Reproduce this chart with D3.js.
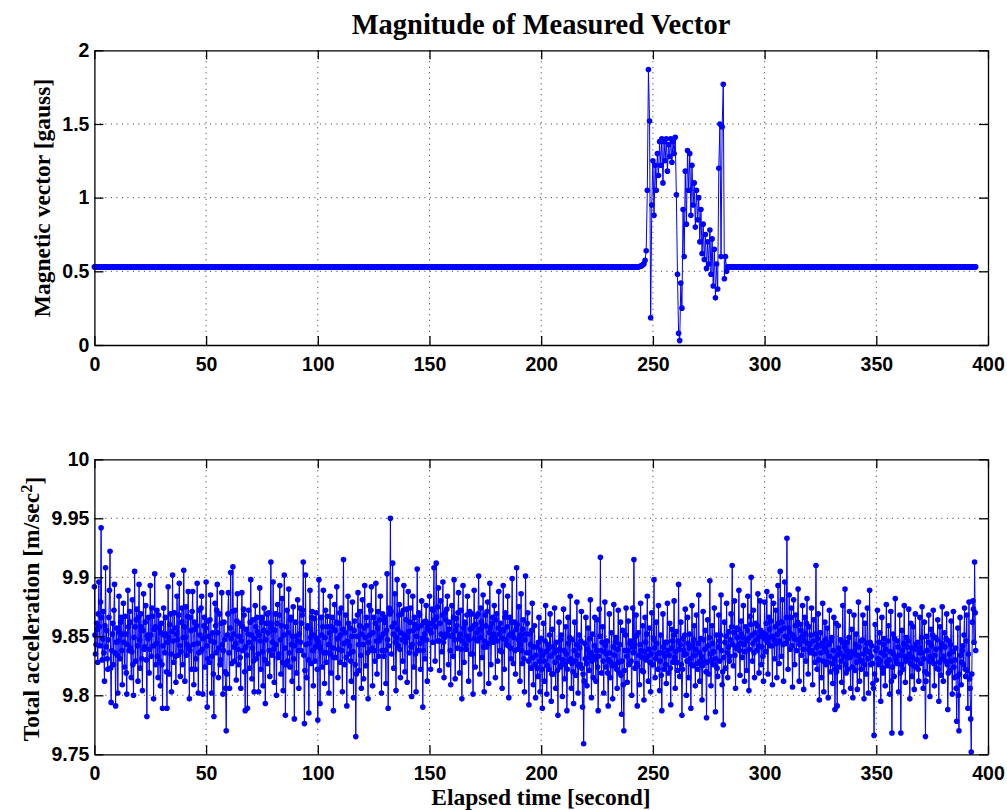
<!DOCTYPE html>
<html>
<head>
<meta charset="utf-8">
<script src="https://cdn.jsdelivr.net/npm/d3@7"></script>
<style>
	body{margin:0;background:#fff;}
	.tick text{font-family:"Liberation Sans",Arial,sans-serif;font-weight:bold;font-size:19.5px;fill:#000;}
	.lbl{font-family:"Liberation Serif","Times New Roman",serif;font-weight:bold;fill:#000;}
</style>
</head>
<body>
<svg id="fig" width="1007" height="810"></svg>
<script>
// sample intervals [s]
const magStep = 0.5;
const accStep = 0.25;

const timeTicks = [0,50,100,150,200,250,300,350,400];
const timeTickLabels = ['0','50','100','150','200','250','300','350','400'];
const magTicks = [0,0.5,1,1.5,2];
const magTickLabels = ['0','0.5','1','1.5','2'];
const accTicks = [9.75,9.8,9.85,9.9,9.95,10];
const accTickLabels = ['9.75','9.8','9.85','9.9','9.95','10'];

// magnitude of measured magnetic vector [gauss], 10 s per row
const magnitude = [
	0.53,0.53,0.53,0.53,0.53,0.53,0.53,0.53,0.53,0.53,0.53,0.53,0.53,0.53,0.53,0.53,0.53,0.53,0.53,0.53,
	0.53,0.53,0.53,0.53,0.53,0.53,0.53,0.53,0.53,0.53,0.53,0.53,0.53,0.53,0.53,0.53,0.53,0.53,0.53,0.53,
	0.53,0.53,0.53,0.53,0.53,0.53,0.53,0.53,0.53,0.53,0.53,0.53,0.53,0.53,0.53,0.53,0.53,0.53,0.53,0.53,
	0.53,0.53,0.53,0.53,0.53,0.53,0.53,0.53,0.53,0.53,0.53,0.53,0.53,0.53,0.53,0.53,0.53,0.53,0.53,0.53,
	0.53,0.53,0.53,0.53,0.53,0.53,0.53,0.53,0.53,0.53,0.53,0.53,0.53,0.53,0.53,0.53,0.53,0.53,0.53,0.53,
	0.53,0.53,0.53,0.53,0.53,0.53,0.53,0.53,0.53,0.53,0.53,0.53,0.53,0.53,0.53,0.53,0.53,0.53,0.53,0.53,
	0.53,0.53,0.53,0.53,0.53,0.53,0.53,0.53,0.53,0.53,0.53,0.53,0.53,0.53,0.53,0.53,0.53,0.53,0.53,0.53,
	0.53,0.53,0.53,0.53,0.53,0.53,0.53,0.53,0.53,0.53,0.53,0.53,0.53,0.53,0.53,0.53,0.53,0.53,0.53,0.53,
	0.53,0.53,0.53,0.53,0.53,0.53,0.53,0.53,0.53,0.53,0.53,0.53,0.53,0.53,0.53,0.53,0.53,0.53,0.53,0.53,
	0.53,0.53,0.53,0.53,0.53,0.53,0.53,0.53,0.53,0.53,0.53,0.53,0.53,0.53,0.53,0.53,0.53,0.53,0.53,0.53,
	0.53,0.53,0.53,0.53,0.53,0.53,0.53,0.53,0.53,0.53,0.53,0.53,0.53,0.53,0.53,0.53,0.53,0.53,0.53,0.53,
	0.53,0.53,0.53,0.53,0.53,0.53,0.53,0.53,0.53,0.53,0.53,0.53,0.53,0.53,0.53,0.53,0.53,0.53,0.53,0.53,
	0.53,0.53,0.53,0.53,0.53,0.53,0.53,0.53,0.53,0.53,0.53,0.53,0.53,0.53,0.53,0.53,0.53,0.53,0.53,0.53,
	0.53,0.53,0.53,0.53,0.53,0.53,0.53,0.53,0.53,0.53,0.53,0.53,0.53,0.53,0.53,0.53,0.53,0.53,0.53,0.53,
	0.53,0.53,0.53,0.53,0.53,0.53,0.53,0.53,0.53,0.53,0.53,0.53,0.53,0.53,0.53,0.53,0.53,0.53,0.53,0.53,
	0.53,0.53,0.53,0.53,0.53,0.53,0.53,0.53,0.53,0.53,0.53,0.53,0.53,0.53,0.53,0.53,0.53,0.53,0.53,0.53,
	0.53,0.53,0.53,0.53,0.53,0.53,0.53,0.53,0.53,0.53,0.53,0.53,0.53,0.53,0.53,0.53,0.53,0.53,0.53,0.53,
	0.53,0.53,0.53,0.53,0.53,0.53,0.53,0.53,0.53,0.53,0.53,0.53,0.53,0.53,0.53,0.53,0.53,0.53,0.53,0.53,
	0.53,0.53,0.53,0.53,0.53,0.53,0.53,0.53,0.53,0.53,0.53,0.53,0.53,0.53,0.53,0.53,0.53,0.53,0.53,0.53,
	0.53,0.53,0.53,0.53,0.53,0.53,0.53,0.53,0.53,0.53,0.53,0.53,0.53,0.53,0.53,0.53,0.53,0.53,0.53,0.53,
	0.53,0.53,0.53,0.53,0.53,0.53,0.53,0.53,0.53,0.53,0.53,0.53,0.53,0.53,0.53,0.53,0.53,0.53,0.53,0.53,
	0.53,0.53,0.53,0.53,0.53,0.53,0.53,0.53,0.53,0.53,0.53,0.53,0.53,0.53,0.53,0.53,0.53,0.53,0.53,0.53,
	0.53,0.53,0.53,0.53,0.53,0.53,0.53,0.53,0.53,0.53,0.53,0.53,0.53,0.53,0.53,0.53,0.53,0.53,0.53,0.53,
	0.53,0.53,0.53,0.53,0.53,0.53,0.53,0.53,0.53,0.53,0.53,0.53,0.53,0.53,0.53,0.53,0.53,0.53,0.53,0.53,
	0.53,0.53,0.53,0.53,0.53,0.53,0.53,0.53,
	// disturbance, t = 244 .. 283.5 s
	0.532,0.535,0.538,0.545,0.552,0.575,0.640,1.050,1.870,1.520,
	0.185,0.950,1.250,0.880,1.220,1.050,1.300,1.150,1.380,1.220,
	1.400,1.100,1.380,1.250,1.400,1.180,1.360,1.280,1.400,1.240,
	1.380,1.300,1.410,1.020,0.480,0.080,0.030,0.420,0.250,0.920,
	0.600,1.180,0.820,1.320,1.050,1.300,0.880,1.220,0.950,1.100,
	0.800,1.050,0.850,1.000,0.700,0.920,0.620,0.820,0.580,0.750,
	0.520,0.700,0.550,0.780,0.480,0.720,0.400,0.650,0.320,0.550,
	0.380,1.200,1.500,0.600,1.480,1.770,0.450,0.600,0.500,0.530,
	// t = 284 s onwards
	0.53,0.53,0.53,0.53,0.53,0.53,0.53,0.53,0.53,0.53,0.53,0.53,0.53,0.53,0.53,0.53,0.53,0.53,0.53,0.53,
	0.53,0.53,0.53,0.53,0.53,0.53,0.53,0.53,0.53,0.53,0.53,0.53,0.53,0.53,0.53,0.53,0.53,0.53,0.53,0.53,
	0.53,0.53,0.53,0.53,0.53,0.53,0.53,0.53,0.53,0.53,0.53,0.53,0.53,0.53,0.53,0.53,0.53,0.53,0.53,0.53,
	0.53,0.53,0.53,0.53,0.53,0.53,0.53,0.53,0.53,0.53,0.53,0.53,0.53,0.53,0.53,0.53,0.53,0.53,0.53,0.53,
	0.53,0.53,0.53,0.53,0.53,0.53,0.53,0.53,0.53,0.53,0.53,0.53,0.53,0.53,0.53,0.53,0.53,0.53,0.53,0.53,
	0.53,0.53,0.53,0.53,0.53,0.53,0.53,0.53,0.53,0.53,0.53,0.53,0.53,0.53,0.53,0.53,0.53,0.53,0.53,0.53,
	0.53,0.53,0.53,0.53,0.53,0.53,0.53,0.53,0.53,0.53,0.53,0.53,0.53,0.53,0.53,0.53,0.53,0.53,0.53,0.53,
	0.53,0.53,0.53,0.53,0.53,0.53,0.53,0.53,0.53,0.53,0.53,0.53,0.53,0.53,0.53,0.53,0.53,0.53,0.53,0.53,
	0.53,0.53,0.53,0.53,0.53,0.53,0.53,0.53,0.53,0.53,0.53,0.53,0.53,0.53,0.53,0.53,0.53,0.53,0.53,0.53,
	0.53,0.53,0.53,0.53,0.53,0.53,0.53,0.53,0.53,0.53,0.53,0.53,0.53,0.53,0.53,0.53,0.53,0.53,0.53,0.53,
	0.53,0.53,0.53,0.53,0.53,0.53,0.53,0.53,0.53,0.53,0.53,0.53,0.53,0.53,0.53,0.53,0.53,0.53,0.53,0.53,
	0.53,0.53
];

// total acceleration [m/sec^2], 10 s per row
const acceleration = [
	9.892,9.851,9.835,9.843,9.861,9.856,9.828,9.869,9.896,9.858,9.842,9.879,9.942,9.866,9.830,9.848,9.871,9.836,9.812,9.859,9.908,9.841,9.855,9.831,9.822,9.847,9.866,9.889,9.922,9.823,9.794,9.838,9.852,9.861,9.826,9.872,9.894,9.836,9.791,9.845,
	9.857,9.834,9.802,9.846,9.884,9.853,9.831,9.862,9.866,9.838,9.809,9.852,9.878,9.845,9.824,9.867,9.852,9.819,9.801,9.843,9.889,9.858,9.838,9.871,9.862,9.840,9.815,9.837,9.881,9.826,9.800,9.849,9.905,9.858,9.829,9.864,9.873,9.842,9.812,9.866,
	9.894,9.847,9.823,9.869,9.858,9.831,9.804,9.855,9.886,9.839,9.841,9.862,9.876,9.830,9.782,9.851,9.848,9.866,9.819,9.839,9.893,9.851,9.833,9.874,9.867,9.842,9.797,9.856,9.903,9.858,9.826,9.844,9.872,9.833,9.815,9.868,9.857,9.829,9.808,9.853,
	9.861,9.826,9.789,9.842,9.874,9.851,9.836,9.866,9.852,9.820,9.789,9.845,9.892,9.849,9.818,9.860,9.869,9.835,9.803,9.854,9.902,9.846,9.828,9.870,9.857,9.833,9.811,9.852,9.884,9.847,9.834,9.868,9.895,9.842,9.816,9.837,9.862,9.874,9.826,9.849,
	9.906,9.858,9.812,9.849,9.875,9.834,9.843,9.867,9.888,9.841,9.797,9.838,9.866,9.855,9.822,9.871,9.888,9.843,9.809,9.862,9.856,9.822,9.831,9.859,9.895,9.844,9.802,9.836,9.872,9.851,9.837,9.874,9.884,9.839,9.801,9.848,9.859,9.866,9.824,9.857,
	9.896,9.842,9.790,9.831,9.863,9.850,9.828,9.864,9.885,9.846,9.802,9.833,9.853,9.818,9.782,9.845,9.878,9.859,9.836,9.872,9.894,9.853,9.815,9.840,9.869,9.826,9.830,9.861,9.887,9.843,9.801,9.838,9.862,9.847,9.820,9.806,9.770,9.818,9.851,9.869,
	9.887,9.836,9.806,9.857,9.904,9.848,9.827,9.871,9.909,9.852,9.841,9.829,9.872,9.844,9.813,9.863,9.886,9.839,9.826,9.850,9.861,9.832,9.806,9.846,9.887,9.858,9.838,9.873,9.868,9.820,9.787,9.841,9.856,9.834,9.789,9.852,9.872,9.845,9.823,9.862,
	9.898,9.851,9.814,9.840,9.864,9.829,9.803,9.848,9.876,9.858,9.831,9.866,9.854,9.835,9.803,9.851,9.891,9.846,9.822,9.862,9.866,9.837,9.808,9.855,9.874,9.830,9.793,9.847,9.861,9.869,9.827,9.853,9.870,9.838,9.816,9.861,9.913,9.857,9.834,9.845,
	9.896,9.839,9.811,9.855,9.869,9.843,9.800,9.861,9.877,9.832,9.835,9.868,9.893,9.847,9.818,9.859,9.882,9.828,9.804,9.851,9.902,9.840,9.783,9.826,9.858,9.872,9.829,9.853,9.890,9.836,9.824,9.864,9.866,9.843,9.812,9.850,9.875,9.831,9.780,9.842,
	9.862,9.850,9.819,9.846,9.881,9.838,9.806,9.852,9.874,9.845,9.838,9.861,9.868,9.872,9.913,9.834,9.776,9.821,9.902,9.843,9.815,9.857,9.859,9.830,9.785,9.844,9.889,9.849,9.827,9.866,9.871,9.838,9.808,9.851,9.865,9.829,9.841,9.870,9.848,9.822,
	9.779,9.845,9.898,9.842,9.793,9.839,9.866,9.851,9.824,9.858,9.889,9.836,9.810,9.849,9.872,9.828,9.836,9.867,9.858,9.843,9.802,9.853,9.884,9.835,9.819,9.858,9.866,9.840,9.787,9.832,9.877,9.855,9.832,9.862,9.892,9.848,9.815,9.839,9.861,9.870,
	9.828,9.851,9.874,9.838,9.803,9.856,9.915,9.844,9.826,9.853,9.868,9.832,9.791,9.846,9.884,9.861,9.835,9.842,9.857,9.829,9.812,9.850,9.879,9.837,9.798,9.855,9.863,9.826,9.765,9.818,9.850,9.868,9.887,9.843,9.821,9.859,9.871,9.834,9.806,9.852,
	9.881,9.843,9.814,9.857,9.893,9.849,9.825,9.866,9.859,9.836,9.797,9.845,9.876,9.851,9.838,9.872,9.892,9.840,9.808,9.853,9.866,9.838,9.829,9.861,9.895,9.846,9.818,9.857,9.871,9.833,9.846,9.864,9.884,9.849,9.802,9.838,9.869,9.852,9.833,9.866,
	9.862,9.838,9.810,9.855,9.903,9.847,9.789,9.842,9.874,9.869,9.950,9.871,9.835,9.858,9.912,9.852,9.823,9.861,9.886,9.845,9.804,9.849,9.898,9.856,9.842,9.868,9.877,9.839,9.815,9.853,9.869,9.847,9.829,9.872,9.893,9.851,9.820,9.845,9.864,9.873,
	9.811,9.849,9.888,9.854,9.836,9.862,9.874,9.841,9.799,9.843,9.884,9.855,9.824,9.866,9.860,9.835,9.803,9.850,9.907,9.857,9.838,9.870,9.868,9.844,9.822,9.859,9.880,9.848,9.790,9.838,9.862,9.852,9.831,9.863,9.876,9.847,9.812,9.858,9.856,9.861,
	9.884,9.855,9.822,9.853,9.873,9.861,9.845,9.872,9.908,9.864,9.829,9.858,9.912,9.866,9.846,9.875,9.891,9.846,9.821,9.861,9.880,9.852,9.837,9.868,9.896,9.845,9.815,9.849,9.870,9.864,9.852,9.873,9.884,9.851,9.826,9.856,9.862,9.838,9.809,9.850,
	9.876,9.851,9.833,9.866,9.898,9.847,9.814,9.855,9.865,9.859,9.840,9.870,9.887,9.848,9.819,9.852,9.872,9.839,9.797,9.846,9.893,9.857,9.828,9.862,9.861,9.843,9.839,9.868,9.884,9.850,9.812,9.847,9.871,9.856,9.835,9.869,9.857,9.835,9.801,9.859,
	9.889,9.848,9.824,9.860,9.867,9.853,9.846,9.869,9.901,9.856,9.818,9.849,9.874,9.862,9.832,9.858,9.885,9.841,9.803,9.846,9.868,9.859,9.841,9.871,9.879,9.844,9.810,9.853,9.895,9.857,9.826,9.848,9.861,9.866,9.845,9.852,9.876,9.849,9.815,9.864,
	9.869,9.846,9.829,9.857,9.888,9.852,9.838,9.861,9.856,9.837,9.806,9.848,9.893,9.855,9.822,9.866,9.870,9.847,9.843,9.858,9.884,9.842,9.798,9.851,9.866,9.840,9.831,9.862,9.899,9.853,9.827,9.849,9.862,9.838,9.818,9.856,9.908,9.860,9.839,9.847,
	9.875,9.843,9.812,9.851,9.886,9.838,9.827,9.856,9.864,9.831,9.803,9.847,9.901,9.852,9.836,9.861,9.870,9.829,9.792,9.836,9.852,9.843,9.823,9.855,9.878,9.832,9.809,9.841,9.859,9.826,9.798,9.834,9.841,9.823,9.816,9.845,9.866,9.829,9.803,9.838,
	9.848,9.822,9.789,9.834,9.861,9.829,9.812,9.846,9.876,9.837,9.801,9.825,9.843,9.840,9.822,9.851,9.869,9.833,9.795,9.818,9.856,9.841,9.818,9.836,9.874,9.828,9.806,9.845,9.838,9.821,9.783,9.832,9.862,9.839,9.824,9.847,9.851,9.826,9.799,9.830,
	9.873,9.838,9.814,9.826,9.858,9.835,9.787,9.822,9.866,9.844,9.829,9.849,9.884,9.831,9.806,9.827,9.847,9.820,9.793,9.838,9.862,9.829,9.817,9.843,9.879,9.834,9.802,9.825,9.851,9.840,9.826,9.846,9.871,9.823,9.790,9.818,9.759,9.812,9.844,9.831,
	9.866,9.827,9.808,9.839,9.857,9.832,9.821,9.848,9.881,9.836,9.798,9.829,9.852,9.815,9.833,9.842,9.866,9.831,9.812,9.838,9.864,9.824,9.787,9.833,9.873,9.850,9.917,9.838,9.819,9.845,9.858,9.829,9.802,9.837,9.879,9.842,9.824,9.835,9.846,9.819,
	9.791,9.830,9.869,9.836,9.815,9.828,9.853,9.825,9.797,9.841,9.877,9.834,9.826,9.845,9.849,9.822,9.806,9.839,9.872,9.828,9.819,9.843,9.862,9.817,9.784,9.829,9.855,9.809,9.770,9.821,9.838,9.851,9.874,9.833,9.811,9.838,9.863,9.826,9.827,9.844,
	9.846,9.829,9.800,9.841,9.874,9.836,9.915,9.842,9.823,9.850,9.868,9.827,9.791,9.825,9.853,9.834,9.809,9.843,9.878,9.838,9.821,9.832,9.859,9.820,9.796,9.837,9.866,9.845,9.830,9.852,9.884,9.833,9.812,9.839,9.857,9.828,9.803,9.835,9.870,9.826,
	9.826,9.848,9.898,9.840,9.815,9.831,9.862,9.844,9.835,9.822,9.876,9.836,9.804,9.829,9.851,9.817,9.787,9.836,9.869,9.841,9.822,9.833,9.845,9.826,9.810,9.845,9.878,9.838,9.819,9.834,9.861,9.823,9.792,9.840,9.856,9.846,9.828,9.851,9.880,9.832,
	9.806,9.837,9.854,9.828,9.821,9.846,9.894,9.839,9.816,9.843,9.862,9.826,9.783,9.822,9.848,9.838,9.834,9.851,9.873,9.835,9.800,9.829,9.866,9.844,9.815,9.840,9.852,9.831,9.789,9.826,9.876,9.842,9.825,9.847,9.859,9.834,9.808,9.839,9.868,9.827,
	9.822,9.844,9.885,9.836,9.812,9.829,9.848,9.833,9.796,9.825,9.871,9.847,9.829,9.839,9.855,9.820,9.781,9.828,9.864,9.842,9.818,9.849,9.897,9.835,9.808,9.830,9.859,9.844,9.826,9.837,9.874,9.826,9.786,9.831,9.851,9.823,9.816,9.841,9.868,9.846,
	9.829,9.851,9.885,9.838,9.809,9.820,9.775,9.832,9.862,9.845,9.823,9.850,9.878,9.836,9.815,9.841,9.854,9.829,9.833,9.847,9.869,9.858,9.910,9.843,9.825,9.853,9.880,9.834,9.806,9.840,9.857,9.849,9.842,9.856,9.889,9.838,9.817,9.844,9.863,9.852,
	9.832,9.849,9.876,9.843,9.812,9.837,9.858,9.846,9.821,9.855,9.884,9.848,9.804,9.839,9.867,9.860,9.900,9.851,9.829,9.844,9.872,9.836,9.815,9.853,9.861,9.847,9.838,9.859,9.886,9.842,9.819,9.850,9.880,9.855,9.826,9.841,9.853,9.833,9.812,9.848,
	9.879,9.852,9.837,9.861,9.888,9.845,9.818,9.849,9.866,9.856,9.842,9.863,9.884,9.842,9.809,9.850,9.878,9.847,9.831,9.858,9.872,9.844,9.815,9.852,9.893,9.861,9.827,9.846,9.905,9.855,9.833,9.862,9.881,9.843,9.812,9.857,9.896,9.850,9.844,9.866,
	9.933,9.848,9.822,9.857,9.885,9.853,9.839,9.866,9.874,9.842,9.807,9.851,9.881,9.848,9.826,9.859,9.868,9.838,9.847,9.862,9.890,9.847,9.812,9.843,9.860,9.855,9.834,9.850,9.876,9.839,9.805,9.846,9.866,9.852,9.829,9.861,9.882,9.844,9.818,9.839,
	9.858,9.843,9.836,9.851,9.874,9.838,9.809,9.846,9.864,9.835,9.828,9.852,9.910,9.841,9.822,9.848,9.869,9.830,9.796,9.842,9.853,9.836,9.815,9.844,9.878,9.829,9.803,9.840,9.862,9.847,9.826,9.837,9.857,9.828,9.798,9.843,9.872,9.833,9.820,9.846,
	9.849,9.827,9.810,9.838,9.866,9.831,9.788,9.822,9.861,9.820,9.791,9.834,9.859,9.840,9.824,9.836,9.847,9.829,9.811,9.845,9.876,9.833,9.803,9.841,9.890,9.826,9.819,9.838,9.845,9.822,9.833,9.849,9.871,9.832,9.806,9.837,9.856,9.824,9.798,9.835,
	9.868,9.836,9.821,9.843,9.852,9.828,9.805,9.834,9.879,9.841,9.812,9.830,9.846,9.822,9.829,9.847,9.868,9.835,9.797,9.826,9.861,9.839,9.818,9.844,9.874,9.831,9.802,9.837,9.889,9.845,9.826,9.833,9.842,9.827,9.810,9.806,9.766,9.818,9.860,9.838,
	9.813,9.840,9.872,9.831,9.826,9.845,9.853,9.829,9.795,9.836,9.866,9.823,9.819,9.843,9.848,9.834,9.808,9.839,9.877,9.828,9.825,9.846,9.859,9.830,9.801,9.837,9.871,9.812,9.768,9.824,9.852,9.835,9.816,9.848,9.882,9.832,9.829,9.827,9.846,9.841,
	9.803,9.834,9.868,9.819,9.768,9.826,9.855,9.838,9.822,9.844,9.876,9.833,9.811,9.829,9.849,9.841,9.831,9.846,9.873,9.835,9.797,9.827,9.861,9.840,9.816,9.832,9.858,9.825,9.805,9.839,9.869,9.843,9.824,9.830,9.845,9.822,9.812,9.836,9.866,9.840,
	9.827,9.849,9.875,9.836,9.806,9.831,9.862,9.820,9.765,9.812,9.850,9.838,9.818,9.845,9.868,9.829,9.799,9.833,9.856,9.842,9.830,9.851,9.872,9.827,9.808,9.834,9.849,9.839,9.823,9.847,9.864,9.822,9.795,9.828,9.858,9.840,9.817,9.844,9.875,9.831,
	9.812,9.833,9.853,9.841,9.829,9.848,9.869,9.826,9.788,9.819,9.846,9.835,9.821,9.843,9.863,9.829,9.801,9.837,9.871,9.824,9.815,9.830,9.840,9.806,9.778,9.816,9.857,9.800,9.770,9.818,9.866,9.834,9.809,9.828,9.838,9.842,9.826,9.851,9.874,9.822,
	9.816,9.846,9.868,9.821,9.789,9.835,9.879,9.814,9.806,9.780,9.752,9.818,9.862,9.880,9.873,9.845,9.913,9.870,9.838
];

const svg = d3.select('#fig');
const blue = '#0000ff';
const tickLen = 9;

function drawPanel(box, yDomain, yTicks, yTickLabels, values, step){
	const x = d3.scaleLinear().domain([0,400]).range([box.left, box.right]);
	const y = d3.scaleLinear().domain(yDomain).range([box.bottom, box.top]);
	const g = svg.append('g');

	// dotted grid
	const grid = g.append('g')
		.attr('stroke','#333')
		.attr('stroke-width',1)
		.attr('stroke-dasharray','1,4.5');
	grid.selectAll('line.gx')
		.data(timeTicks.slice(1,-1))
		.join('line')
			.classed('gx',true)
			.attr('x1',d=>x(d)).attr('x2',d=>x(d))
			.attr('y1',box.top).attr('y2',box.bottom);
	grid.selectAll('line.gy')
		.data(yTicks.slice(1,-1))
		.join('line')
			.classed('gy',true)
			.attr('y1',d=>y(d)).attr('y2',d=>y(d))
			.attr('x1',box.left).attr('x2',box.right);

	const pts = values.map((v,i)=>[i*step, v]);
	const line = d3.line()
		.x(d=>x(d[0]))
		.y(d=>y(d[1]));
	g.append('path')
		.attr('d',line(pts))
		.attr('fill','none')
		.attr('stroke',blue)
		.attr('stroke-width',1);
	g.append('g')
		.attr('fill',blue)
		.selectAll('circle')
		.data(pts)
		.join('circle')
			.attr('cx',d=>x(d[0]))
			.attr('cy',d=>y(d[1]))
			.attr('r',2.8);

	// MATLAB style box with inward ticks
	const axes = [
		[d3.axisBottom(x).tickValues(timeTicks).tickFormat((d,i)=>timeTickLabels[i]).tickPadding(12), `translate(0,${box.bottom})`],
		[d3.axisTop(x).tickValues(timeTicks).tickFormat(''), `translate(0,${box.top})`],
		[d3.axisLeft(y).tickValues(yTicks).tickFormat((d,i)=>yTickLabels[i]).tickPadding(5), `translate(${box.left},0)`],
		[d3.axisRight(y).tickValues(yTicks).tickFormat(''), `translate(${box.right},0)`]
	];
	axes.forEach(([ax,tr])=>{
		const a = g.append('g')
			.attr('transform',tr)
			.call(ax.tickSizeInner(-tickLen).tickSizeOuter(0))
			.attr('font-size',null)
			.attr('font-family',null);
		a.selectAll('path,line')
			.attr('stroke','#000')
			.attr('stroke-width',1.3);
	});
}

drawPanel({left:94.4,right:988,top:50.3,bottom:345}, [0,2], magTicks, magTickLabels, magnitude, magStep);
drawPanel({left:94.4,right:988,top:459.3,bottom:754.3}, [9.75,10], accTicks, accTickLabels, acceleration, accStep);

svg.append('text')
	.classed('lbl',true)
	.attr('x',541).attr('y',34)
	.attr('text-anchor','middle')
	.attr('font-size',28.5)
	.text('Magnitude of Measured Vector');

svg.append('text')
	.classed('lbl',true)
	.attr('transform','translate(50,198) rotate(-90)')
	.attr('text-anchor','middle')
	.attr('font-size',23.5)
	.text('Magnetic vector [gauss]');

const accLabel = svg.append('text')
	.classed('lbl',true)
	.attr('transform','translate(39,609) rotate(-90)')
	.attr('text-anchor','middle')
	.attr('font-size',23.5);
accLabel.append('tspan').text('Total acceleration [m/sec');
accLabel.append('tspan').attr('dy','-0.45em').attr('font-size',16.5).text('2');
accLabel.append('tspan').attr('dy','0.45em').text(']');

svg.append('text')
	.classed('lbl',true)
	.attr('x',541).attr('y',805)
	.attr('text-anchor','middle')
	.attr('font-size',23.5)
	.text('Elapsed time [second]');
</script>
</body>
</html>
